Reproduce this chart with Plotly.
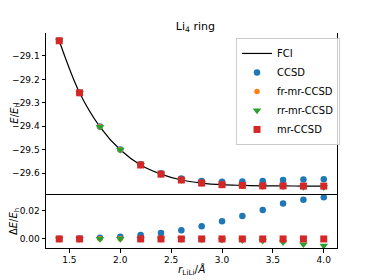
import plotly.graph_objects as go

r = [1.4, 1.6, 1.8, 2.0, 2.2, 2.4, 2.6, 2.8, 3.0, 3.2, 3.4, 3.6, 3.8, 4.0]
e_fci = [-29.035, -29.257, -29.402, -29.500, -29.565, -29.604, -29.629,
         -29.642, -29.649, -29.652, -29.654, -29.654, -29.655, -29.655]
d_ccsd = [0.0002, 0.0004, 0.0008, 0.0016, 0.0028, 0.0042, 0.0061,
          0.0090, 0.0125, 0.0163, 0.0205, 0.0250, 0.0278, 0.0295]
d_fr = [0.0, 0.0001, 0.0001, 0.0002, 0.0001, 0.0001, 0.0001,
        0.0002, 0.0002, 0.0004, 0.0002, 0.0003, 0.0002, 0.0002]
d_rr = [0.0, 0.0, 0.0, 0.0, 0.0, -0.0001, -0.0002,
        -0.0004, -0.0006, -0.0009, -0.0013, -0.0024, -0.0038, -0.0048]
d_mr = [0.0, 0.0, None, None, 0.0, 0.0, 0.0,
        0.0, 0.0, 0.0, 0.0, 0.0, 0.0, 0.0]
err_ccsd = [0.0001] * 14
err_fr = [0.0004] * 14
err_rr = [0.0004] * 14
err_mr = [0.0004] * 14

series = [
    ("CCSD", d_ccsd, err_ccsd, "#1f77b4", "circle", 6.5),
    ("fr-mr-CCSD", d_fr, err_fr, "#ff7f0e", "circle", 5.5),
    ("rr-mr-CCSD", d_rr, err_rr, "#2ca02c", "triangle-down", 7.5),
    ("mr-CCSD", d_mr, err_mr, "#d62728", "square", 7),
]

fig = go.Figure()
fig.add_trace(go.Scatter(x=r, y=e_fci, mode="lines", name="FCI",
                         line=dict(color="black", width=1.2, shape="spline"),
                         xaxis="x", yaxis="y2"))

for name, d, err, col, sym, sz in series:
    e = [None if v is None else f + v for f, v in zip(e_fci, d)]
    fig.add_trace(go.Scatter(
        x=r, y=e, mode="markers", name=name,
        marker=dict(color=col, symbol=sym, size=sz, line=dict(width=0)),
        error_y=dict(type="data", array=err, color=col, thickness=1, width=2),
        xaxis="x", yaxis="y2"))
    fig.add_trace(go.Scatter(
        x=r, y=d, mode="markers", name=name, showlegend=False,
        marker=dict(color=col, symbol=sym, size=sz, line=dict(width=0)),
        error_y=dict(type="data", array=err, color=col, thickness=1, width=2),
        xaxis="x", yaxis="y"))

font = dict(family="DejaVu Sans", size=9, color="black")
axis_common = dict(showline=True, linecolor="black", linewidth=1, mirror=True,
                   ticks="outside", ticklen=3.5, tickcolor="black",
                   showgrid=False, zeroline=False, tickfont=font,
                   automargin=False)

# page is rendered with an 8px body margin, so the figure is 8px smaller
fig.update_layout(
    width=366, height=272,
    margin=dict(l=38, r=37, t=25, b=32),
    paper_bgcolor="white", plot_bgcolor="white",
    font=font,
    title=dict(text="Li<sub>4</sub> ring", x=0.512, xanchor="center",
               y=1 - 18 / 272, yanchor="middle", yref="container",
               font=dict(family="DejaVu Sans", size=11, color="black")),
    xaxis=dict(range=[1.27, 4.13], tickvals=[1.5, 2.0, 2.5, 3.0, 3.5, 4.0],
               ticktext=["1.5", "2.0", "2.5", "3.0", "3.5", "4.0"],
               anchor="y", **axis_common),
    yaxis=dict(domain=[0, 0.2465], range=[-0.0064, 0.0311],
               tickvals=[0.0, 0.02], ticktext=["0.00", "0.02"],
               anchor="x", **axis_common),
    yaxis2=dict(domain=[0.2465, 1], range=[-29.693, -29.002],
                tickvals=[-29.1, -29.2, -29.3, -29.4, -29.5, -29.6],
                tickformat=".1f",
                anchor="x", **axis_common),
    showlegend=True,
    legend=dict(x=0.653, y=0.977, xanchor="left", yanchor="top",
                bgcolor="rgba(255,255,255,0.8)", bordercolor="#cccccc",
                borderwidth=1, font=dict(family="DejaVu Sans", size=10),
                tracegroupgap=0, itemwidth=30),
    annotations=[
        dict(text="<i>r</i><sub>LiLi</sub>/<i>Å</i>", xref="paper", yref="paper",
             x=0.5, y=-0.103, xanchor="center", yanchor="middle", showarrow=False,
             font=dict(family="DejaVu Sans", size=10.5, color="black")),
        dict(text="Δ<i>E</i>/<i>E</i><sub>h</sub>", xref="paper", yref="paper",
             x=-0.108, y=0.1233, xanchor="center", yanchor="middle", showarrow=False,
             textangle=-90,
             font=dict(family="DejaVu Sans", size=10, color="black")),
        dict(text="<i>E</i>/<i>E</i><sub>h</sub>", xref="paper", yref="paper",
             x=-0.108, y=0.623, xanchor="center", yanchor="middle", showarrow=False,
             textangle=-90,
             font=dict(family="DejaVu Sans", size=10, color="black")),
    ],
)

fig.write_html("out.html")
